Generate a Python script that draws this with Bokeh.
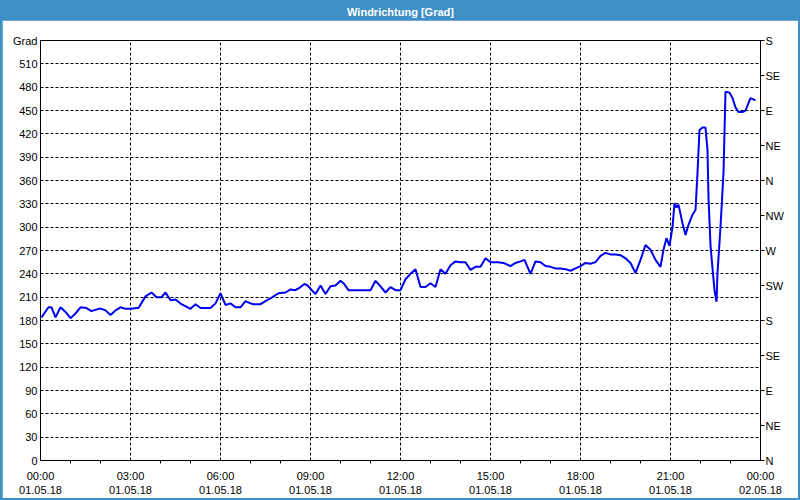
from bokeh.plotting import figure
from bokeh.layouts import column
from bokeh.models import Range1d, LinearAxis, FixedTicker
from bokeh.core.properties import value
from bokeh.embed import file_html
from bokeh.resources import INLINE
import numpy as np

title_text = "Windrichtung [Grad]"
y_unit_label = "Grad"

# time in minutes after 01.05.18 00:00, wind direction in degrees
minutes = [2, 16, 22, 30, 40, 50, 60, 70, 80, 92, 102, 116, 122, 130, 140, 150, 160, 170, 182, 192,
           196, 210, 222, 232, 242, 250, 260, 270, 282, 300, 310, 320, 330, 340, 350, 360, 370, 380, 390, 400,
           410, 420, 426, 440, 450, 464, 476, 490, 500, 510, 520, 528, 534, 544, 550, 560, 570, 580, 590, 600,
           606, 616, 630, 644, 654, 660, 670, 680, 690, 700, 710, 720, 730, 740, 750, 760, 770, 780, 790, 800,
           810, 820, 830, 840, 850, 860, 870, 880, 890, 900, 914, 926, 940, 950, 960, 968, 980, 990, 1000, 1010,
           1020, 1030, 1040, 1050, 1060, 1070, 1080, 1090, 1100, 1110, 1120, 1130, 1140, 1150, 1160, 1170, 1180, 1190, 1200,
           1210, 1220, 1230, 1240, 1246, 1252, 1258, 1264, 1268, 1272, 1276, 1284, 1290, 1296, 1304, 1310, 1314, 1318,
           1324, 1330, 1334, 1336, 1340, 1344, 1348, 1352, 1354, 1360, 1366, 1370, 1378, 1384, 1390, 1396, 1404, 1410,
           1420, 1430]
degrees = [184, 197, 197, 184, 197, 191, 183, 189, 197, 196, 192, 195, 195, 193, 187, 193, 197, 195, 195, 196,
           196, 211, 216, 210, 210, 216, 206, 207, 201, 195, 201, 196, 196, 196, 202, 215, 200, 202, 197, 197,
           205, 202, 201, 201, 205, 210, 215, 216, 220, 219, 223, 227, 225, 218, 214, 225, 214, 224, 225, 231,
           228, 219, 219, 219, 219, 219, 231, 224, 216, 223, 219, 219, 233, 240, 246, 223, 223, 228, 223, 246,
           240, 251, 256, 255, 255, 245, 249, 249, 260, 255, 255, 254, 250, 254, 256, 258, 240, 256, 255, 250,
           249, 247, 247, 246, 244, 247, 250, 254, 253, 255, 263, 267, 265, 265, 264, 260, 254, 241, 258,
           277, 271, 258, 249, 271, 286, 276, 300, 331, 325, 329, 305, 290, 303, 316, 322, 370, 425,
           428, 428, 399, 338, 277, 247, 219, 204, 241, 300, 370, 474, 473, 466, 454, 448, 448, 450,
           466, 463]

left_ticks = list(range(0, 540, 30))
right_ticks = [0, 45, 90, 135, 180, 225, 270, 315, 360, 405, 450, 495, 540]
right_labels = ["N", "NE", "E", "SE", "S", "SW", "W", "NW", "N", "NE", "E", "SE", "S"]
x_ticks = [0, 3, 6, 9, 12, 15, 18, 21, 24]
x_labels = ["00:00\n01.05.18", "03:00\n01.05.18", "06:00\n01.05.18", "09:00\n01.05.18",
            "12:00\n01.05.18", "15:00\n01.05.18", "18:00\n01.05.18", "21:00\n01.05.18",
            "00:00\n02.05.18"]

hours = np.array(minutes) / 60.0

BLUE_BAR = "#3d8fc6"
FONT = "Liberation Sans"

# title bar
pt = figure(width=796, height=18, x_range=(0, 1), y_range=(0, 1), toolbar_location=None,
            output_backend="svg", min_border=0)
pt.axis.visible = False
pt.grid.visible = False
pt.outline_line_color = None
pt.background_fill_color = BLUE_BAR
pt.border_fill_color = BLUE_BAR
pt.text(x=[0.5], y=[0.5], text=[title_text], text_align="center", text_baseline="middle",
        text_color="white", text_font=value(FONT), text_font_style="bold", text_font_size="11px")

p = figure(width=796, height=478, x_range=Range1d(0, 24), y_range=Range1d(0, 540),
           toolbar_location=None, output_backend="svg",
           min_border_left=38, min_border_right=38, min_border_top=20, min_border_bottom=38)
p.background_fill_color = "white"
p.border_fill_color = "white"
p.outline_line_color = "black"
p.outline_line_width = 1

p.line(hours, degrees, line_color="#0000f0", line_width=2)

# bottom axis
xa = p.xaxis[0]
xa.ticker = FixedTicker(ticks=x_ticks, minor_ticks=[h for h in range(25) if h % 3 != 0])
xa.major_label_overrides = {t: l for t, l in zip(x_ticks, x_labels)}
xa.major_tick_out = 0
xa.major_tick_in = 0
xa.minor_tick_out = 3
xa.minor_tick_in = 0
xa.axis_line_color = "black"
xa.major_label_text_font = FONT
xa.major_label_text_font_size = "11px"
xa.major_label_text_color = "black"
xa.major_label_standoff = 6

# left axis
ya = p.yaxis[0]
ya.ticker = FixedTicker(ticks=left_ticks + [540])
ya.major_label_overrides = {540: y_unit_label}
ya.major_tick_out = 0
ya.major_tick_in = 0
ya.minor_tick_out = 0
ya.minor_tick_in = 0
ya.axis_line_color = "black"
ya.major_label_text_font = FONT
ya.major_label_text_font_size = "11px"
ya.major_label_text_color = "black"
ya.major_label_standoff = 3

# right axis (compass directions)
ra = LinearAxis(ticker=FixedTicker(ticks=right_ticks),
                major_label_overrides={t: l for t, l in zip(right_ticks, right_labels)})
ra.major_tick_out = 4
ra.major_tick_in = 0
ra.minor_tick_out = 0
ra.minor_tick_in = 0
ra.axis_line_color = "black"
ra.major_label_text_font = FONT
ra.major_label_text_font_size = "11px"
ra.major_label_text_color = "black"
ra.major_label_standoff = 1
p.add_layout(ra, "right")

# grids
p.xgrid.ticker = FixedTicker(ticks=x_ticks)
p.ygrid.ticker = FixedTicker(ticks=left_ticks)
for g in (p.xgrid[0], p.ygrid[0]):
    g.grid_line_color = "black"
    g.grid_line_dash = "3 2"
    g.grid_line_width = 1

layout = column(pt, p, styles={"border-left": "2px solid " + BLUE_BAR,
                               "border-right": "2px solid " + BLUE_BAR,
                               "border-bottom": "2px solid " + BLUE_BAR,
                               "border-top": "2px solid " + BLUE_BAR,
                               "background-color": BLUE_BAR})

open("out.html", "w").write(file_html(layout, INLINE))
